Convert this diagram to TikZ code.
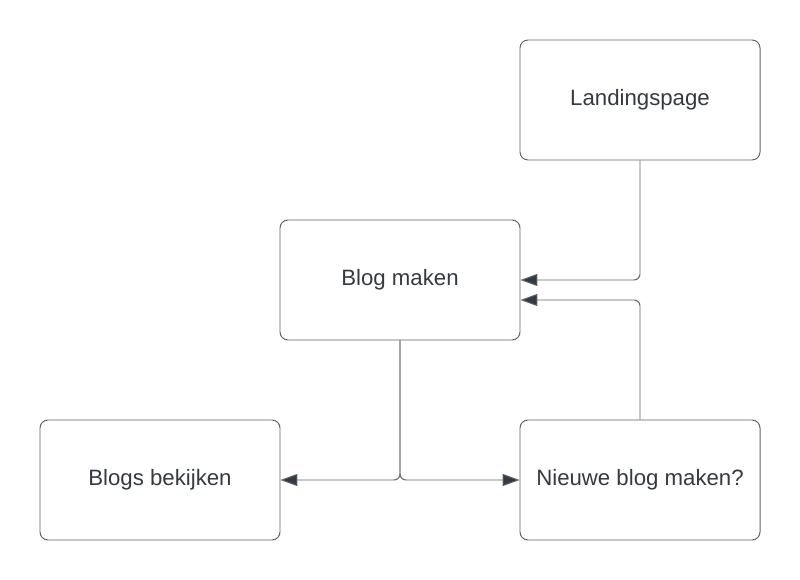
\documentclass[tikz,border=0pt]{standalone}
\usepackage{fontspec}
\setmainfont{Liberation Sans}
\usetikzlibrary{arrows.meta}
\definecolor{boxline}{HTML}{5F6266}
\definecolor{tipfill}{HTML}{333A44}
\definecolor{labeltext}{HTML}{353A41}
\begin{document}
\begin{tikzpicture}[every path/.style={>={Triangle[length=0.42cm,width=0.3cm,fill=tipfill,line join=miter]}},
  every node/.style={draw=boxline,line width=0.7pt,rectangle,rounded corners=0.2cm,minimum width=6cm,minimum height=3cm,font=\fontsize{15.8}{18}\selectfont,text=labeltext},
  conn/.style={draw=boxline,line width=0.7pt,rounded corners=0.15cm}]
\useasboundingbox (0,0) rectangle (20,-14.5);
\node (landing) at (16,-2.5) {Landingspage};
\node (blog) at (10,-7) {Blog maken};
\node (bekijken) at (4,-12) {Blogs bekijken};
\node (nieuwe) at (16,-12) {Nieuwe blog maken?};
\coordinate (blogin) at ([yshift=-0.5cm]blog.east);

\draw[conn,->] (landing.south) |- (blog.east);
\draw[conn,->] (nieuwe.north) |- (blogin);
\draw[conn,->] (blog.south) |- (bekijken.east);
  \draw[conn,->] (blog.south) |- (nieuwe.west);
\end{tikzpicture}
\end{document}
